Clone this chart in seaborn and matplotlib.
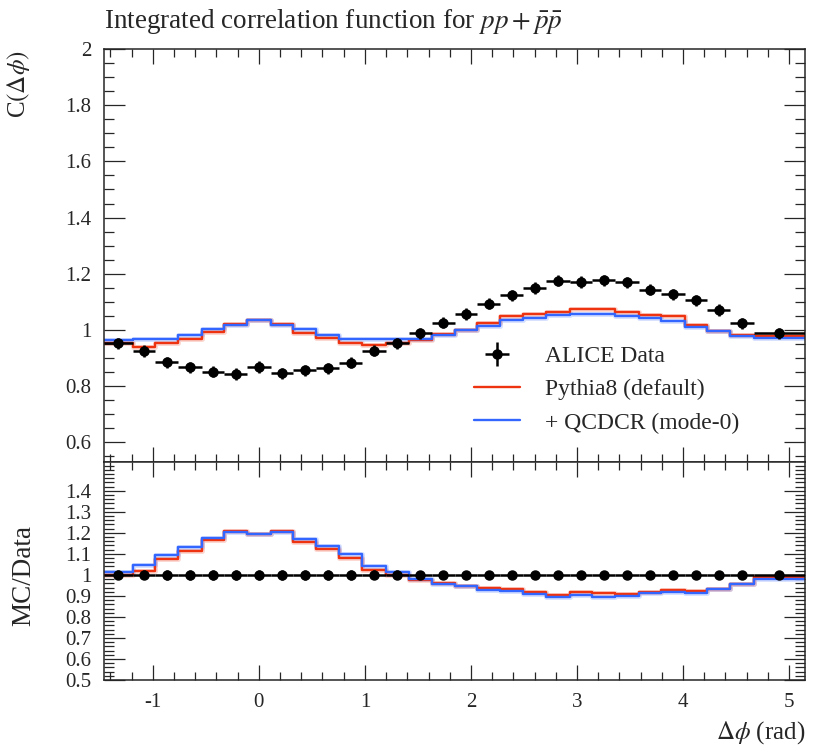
import numpy as np, pandas as pd
import seaborn as sns, matplotlib.pyplot as plt
from matplotlib.ticker import MultipleLocator, FuncFormatter
from matplotlib.lines import Line2D

# bin edges in delta phi (rad)
edges = [-1.46, -1.19, -0.975, -0.76, -0.54, -0.325, -0.11, 0.11, 0.325, 0.54,
         0.76, 0.975, 1.195, 1.415, 1.63, 1.845, 2.06, 2.275, 2.495, 2.71,
         2.93, 3.145, 3.36, 3.58, 3.795, 4.015, 4.23, 4.445, 4.665, 5.15]

alice = [0.952, 0.925, 0.885, 0.867, 0.851, 0.843, 0.868, 0.846, 0.857, 0.863,
         0.883, 0.926, 0.952, 0.988, 1.026, 1.057, 1.093, 1.123, 1.149, 1.175,
         1.171, 1.176, 1.169, 1.143, 1.127, 1.105, 1.071, 1.024, 0.988]
alice_err = [0.02] * 29

pythia = [0.952, 0.940, 0.952, 0.967, 0.994, 1.021, 1.036, 1.021, 0.990, 0.970,
          0.952, 0.946, 0.952, 0.964, 0.986, 1.000, 1.024, 1.048, 1.057, 1.065,
          1.075, 1.076, 1.065, 1.052, 1.048, 1.019, 0.998, 0.981, 0.979]
qcdcr = [0.964, 0.967, 0.969, 0.983, 1.002, 1.017, 1.036, 1.017, 1.002, 0.983,
         0.969, 0.967, 0.967, 0.967, 0.983, 1.000, 1.014, 1.036, 1.044, 1.052,
         1.057, 1.055, 1.050, 1.042, 1.033, 1.012, 0.998, 0.979, 0.971]

labels = ["ALICE Data", "Pythia8 (default)", "+ QCDCR (mode-0)"]
colors = {"Pythia8 (default)": "#ee3311", "+ QCDCR (mode-0)": "#3366ff"}

sns.set_style("ticks")
plt.rcParams["font.family"] = ["Liberation Serif", "DejaVu Serif"]
plt.rcParams["mathtext.fontset"] = "stix"
plt.rcParams["axes.unicode_minus"] = False

e = np.array(edges)
centers = 0.5 * (e[:-1] + e[1:])
xlo = centers - e[:-1]
xhi = e[1:] - centers
data = np.array(alice)
err = np.array(alice_err)

def step_frame(values):
    rows = []
    for name, v in values.items():
        rows.append(pd.DataFrame({"dphi": edges, "val": list(v) + [v[-1]], "gen": name}))
    return pd.concat(rows, ignore_index=True)

main_df = step_frame({labels[1]: pythia, labels[2]: qcdcr})
ratio_df = step_frame({labels[1]: np.array(pythia) / data,
                       labels[2]: np.array(qcdcr) / data})

fig = plt.figure(figsize=(8.3, 7.5), dpi=100)
ax = fig.add_axes([0.1253, 0.384, 0.8446, 0.5507])
rax = fig.add_axes([0.1253, 0.0933, 0.8446, 0.2907])

for a, df in [(ax, main_df), (rax, ratio_df)]:
    sns.lineplot(data=df, x="dphi", y="val", hue="gen", palette=colors,
                 drawstyle="steps-post", estimator=None, sort=False,
                 lw=3.5, alpha=0.2, legend=False, ax=a)
    sns.lineplot(data=df, x="dphi", y="val", hue="gen", palette=colors,
                 drawstyle="steps-post", estimator=None, sort=False,
                 lw=1.7, legend=False, ax=a)

eb = ax.errorbar(centers, data, xerr=[xlo, xhi], yerr=err, fmt="o", color="black",
                 ms=6.5, elinewidth=1.8, capsize=0, zorder=5)
rax.errorbar(centers, np.ones_like(data), xerr=[xlo, xhi], yerr=err / data, fmt="o",
             color="black", ms=6.5, elinewidth=1.8, capsize=0, zorder=5)

fmt = FuncFormatter(lambda v, p: f"{round(v, 2):g}")
for a in (ax, rax):
    a.set_xlim(edges[0], edges[-1])
    a.xaxis.set_major_locator(MultipleLocator(1))
    a.xaxis.set_minor_locator(MultipleLocator(0.2))
    a.tick_params(which="both", direction="in", top=True, right=True,
                  labelsize=15, width=0.9)
    a.tick_params(axis="x", which="major", length=11, pad=9)
    a.tick_params(axis="x", which="minor", length=5.5)
    a.tick_params(axis="y", which="major", length=15, pad=9)
    a.tick_params(axis="y", which="minor", length=7)
    a.yaxis.set_major_formatter(fmt)
    a.xaxis.set_major_formatter(fmt)
    a.set_xlabel("")
    a.set_ylabel("")
    for s in a.spines.values():
        s.set_linewidth(1.1)

ax.set_ylim(0.53, 2.0)
ax.yaxis.set_major_locator(MultipleLocator(0.2))
ax.yaxis.set_minor_locator(MultipleLocator(0.05))
ax.tick_params(axis="x", labelbottom=False)

rax.set_ylim(0.5, 1.537)
rax.set_yticks([0.5, 0.6, 0.7, 0.8, 0.9, 1.0, 1.1, 1.2, 1.3, 1.4])
rax.yaxis.set_minor_locator(MultipleLocator(0.02))

handles = [eb,
           Line2D([], [], color=colors[labels[1]], lw=1.7),
           Line2D([], [], color=colors[labels[2]], lw=1.7)]
ax.legend(handles, labels, loc="upper left", bbox_to_anchor=(0.528, 0.282),
          frameon=False, fontsize=17, handlelength=1.95, handletextpad=1.05,
          labelspacing=0.5, borderpad=0, borderaxespad=0)

fig.text(0.1253, 1 - 22 / 750, r"Integrated correlation function for $pp + \bar{p}\bar{p}$",
         fontsize=19.5, ha="left", va="center")
fig.text(18 / 830, 1 - 50 / 750, r"C$(\Delta\phi)$", rotation=90, fontsize=18,
         ha="center", va="top")
fig.text(24 / 830, 1 - 576 / 750, "MC/Data", rotation=90, fontsize=19.5,
         ha="center", va="center")
fig.text(805 / 830, 1 - 733 / 750, r"$\Delta\phi$ (rad)", fontsize=18,
         ha="right", va="center")

fig.savefig("out.png", dpi=100)
